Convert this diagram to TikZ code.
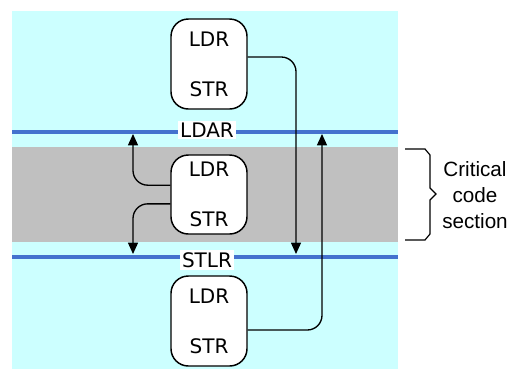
\documentclass[tikz,border=0pt]{standalone}
\usepackage{fontspec}
\setmainfont{DejaVu Sans}
\newfontfamily\notefont{Liberation Sans}
\usetikzlibrary{arrows.meta,positioning}
\definecolor{bgCyan}{RGB}{204,255,255}
\definecolor{bandGray}{RGB}{192,192,192}
\definecolor{fenceBlue}{RGB}{68,114,206}

\begin{document}
\begin{tikzpicture}[x=0.75pt,y=-0.75pt,
  instr/.style={draw,line width=1.1pt,fill=white,rounded corners=13pt,minimum width=57pt,
    align=center,font=\fontsize{15}{18}\selectfont},
  fence/.style={fill=white,inner sep=1.5pt,font=\fontsize{15}{18}\selectfont},
  flow/.style={line width=1pt,rounded corners=11pt,-{Triangle[length=8.5pt,width=7.5pt]}}]
\useasboundingbox (0,0) rectangle (511,369);
% regions
\fill[bgCyan] (12,11) rectangle (398,369);
\fill[bandGray] (12,147) rectangle (398,242);
\draw[fenceBlue,line width=2.6pt] (12,132) -- (398,132);
\draw[fenceBlue,line width=2.6pt] (12,257) -- (398,257);
\node[fence] (ldar) at (207,130) {LDAR};
\node[fence] (stlr) at (207,260) {STLR};
% instruction blocks
\node[instr,minimum height=67.5pt] (top) at (209,64) {LDR\\[19.5pt]STR};
\node[instr,minimum height=59.25pt] (mid) at (209,194.5) {LDR\\[19.5pt]STR};
\node[instr,minimum height=67.5pt] (bot) at (209,321) {LDR\\[19.5pt]STR};
% reordering limits
\coordinate (topEnd) at (296,254);
\coordinate (botEnd) at (322,134);
\coordinate (upEnd) at (133,134);
\coordinate (downEnd) at (133,254);
\draw[flow] ([yshift=5.25pt]top.east) -| (topEnd);
\draw[flow] ([yshift=-6.75pt]bot.east) -| (botEnd);
\draw[flow] ([yshift=7pt]mid.west) -| (upEnd);
\draw[flow] ([yshift=-7pt]mid.west) -| (downEnd);
% brace
\draw[line width=0.9pt] (405,149) -- (425,149) -- (430,155) -- (430,188) -- (436,194)
  -- (430,200) -- (430,234) -- (425,240) -- (405,240);
\node[align=center,font=\notefont\fontsize{15.5}{19.5}\selectfont] (sec) at (475,195)
  {Critical\\code\\section};
\end{tikzpicture}
\end{document}
